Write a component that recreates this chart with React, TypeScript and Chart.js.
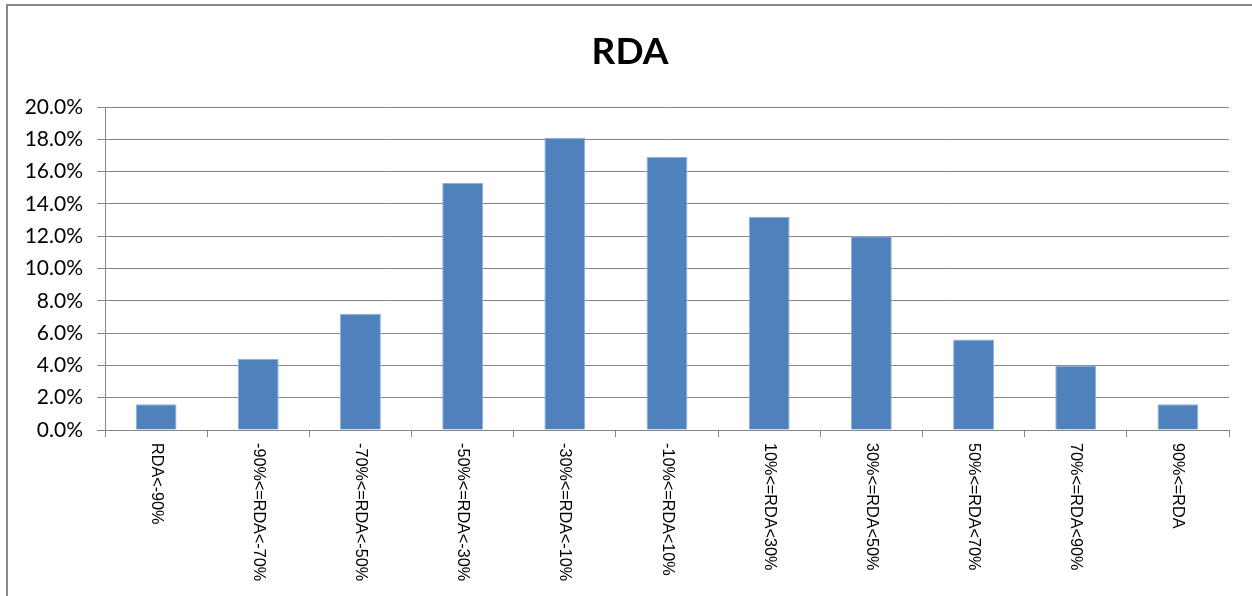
import React, { useEffect, useRef } from "react";
import { Chart, registerables } from "chart.js";

Chart.register(...registerables);

const chartTitle = "RDA";
const categories = [
  "RDA<-90%",
  "-90%<=RDA<-70%",
  "-70%<=RDA<-50%",
  "-50%<=RDA<-30%",
  "-30%<=RDA<-10%",
  "-10%<=RDA<10%",
  "10%<=RDA<30%",
  "30%<=RDA<50%",
  "50%<=RDA<70%",
  "70%<=RDA<90%",
  "90%<=RDA",
];
const shares = [1.6, 4.4, 7.2, 15.3, 18.1, 16.9, 13.2, 12.0, 5.6, 4.0, 1.6];
const yMin = 0;
const yMax = 20;
const yStep = 2;

const W = 1252;
const H = 596;
const GRID = "#868686";

const titleAndLabels = {
  id: "titleAndLabels",
  afterDraw(chart: any) {
    const xs = chart.scales.x;
    const ctx = chart.ctx;
    const labels: string[] = chart.data.labels;
    ctx.save();
    // title
    ctx.fillStyle = "#000000";
    ctx.font = "bold 37px Lato, 'Open Sans', sans-serif";
    ctx.textAlign = "center";
    ctx.textBaseline = "middle";
    ctx.fillText(chartTitle, chart.width / 2 + 4, 52);
    // rotated category labels (reading top to bottom)
    ctx.font = "16.2px 'Liberation Sans', Arial, sans-serif";
    ctx.textAlign = "left";
    ctx.textBaseline = "middle";
    const y0 = chart.chartArea.bottom + 13;
    labels.forEach((lab, i) => {
      const x = xs.getPixelForTick(i);
      ctx.save();
      ctx.translate(x, y0);
      ctx.rotate(Math.PI / 2);
      ctx.fillText(lab, 0, 0);
      ctx.restore();
    });
    ctx.restore();
  },
};

export default function App() {
  const ref = useRef<HTMLCanvasElement | null>(null);

  useEffect(() => {
    if (!ref.current) return;
    const chart = new Chart(ref.current, {
      type: "bar",
      data: {
        labels: categories,
        datasets: [
          {
            data: shares,
            backgroundColor: "#4F81BD",
            borderColor: "#8FB1DB",
            borderWidth: { top: 1, left: 1, right: 1, bottom: 0 },
            barPercentage: 0.4,
            categoryPercentage: 1,
          },
        ],
      },
      options: {
        responsive: false,
        animation: false,
        layout: { padding: { left: 0, right: 23, top: 107, bottom: 0 } },
        plugins: {
          legend: { display: false },
          tooltip: { enabled: false },
          title: { display: false },
        },
        scales: {
          x: {
            offset: true,
            grid: {
              offset: true,
              drawOnChartArea: false,
              drawTicks: true,
              tickLength: 7,
              color: GRID,
            },
            border: { display: true, color: GRID, width: 1 },
            ticks: {
              autoSkip: false,
              minRotation: 90,
              maxRotation: 90,
              color: "rgba(0,0,0,0)",
              font: { family: "'Liberation Sans', Arial, sans-serif", size: 16 },
            },
            afterFit(scale: any) {
              scale.height = 166;
            },
          },
          y: {
            min: yMin,
            max: yMax,
            grid: { color: GRID, tickLength: 8, drawTicks: true },
            border: { display: true, color: GRID, width: 1 },
            ticks: {
              stepSize: yStep,
              padding: 14,
              color: "#000000",
              font: { family: "Lato, 'Open Sans', sans-serif", size: 21 },
              callback: (v: any) => Number(v).toFixed(1) + "%",
            },
            afterFit(scale: any) {
              scale.width = 105;
            },
          },
        },
      },
      plugins: [titleAndLabels],
    });
    return () => chart.destroy();
  }, []);

  return (
    <div
      style={{
        position: "fixed",
        left: 0,
        top: 0,
        width: W,
        height: H,
        overflow: "hidden",
        background: "#ffffff",
      }}
    >
      <div
        style={{
          position: "absolute",
          left: 6,
          top: 4,
          width: 1400,
          height: 800,
          borderLeft: "2px solid #8a8a8a",
          borderTop: "2px solid #8a8a8a",
        }}
      />
      <canvas
        ref={ref}
        width={W}
        height={H}
        style={{ position: "absolute", left: 0, top: 0, width: W, height: H }}
      />
    </div>
  );
}
